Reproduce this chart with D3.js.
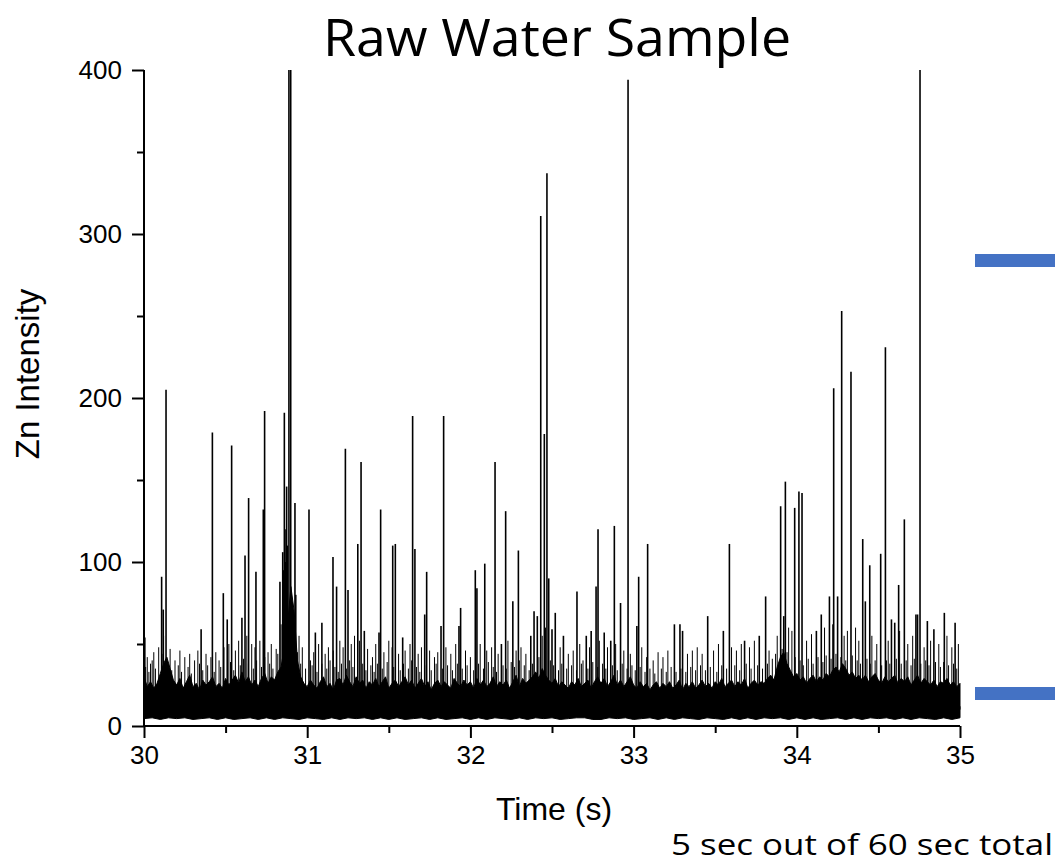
<!DOCTYPE html>
<html>
<head>
<meta charset="utf-8">
<script src="https://cdn.jsdelivr.net/npm/d3@7"></script>
<style>
  body { margin: 0; background: white; }
  svg { display: block; }
</style>
</head>
<body>
<div id="canvas"></div>
<script>
var w = 1055;
var h = 865;

// ---- data ----
var timeTicks = [30, 31, 32, 33, 34, 35];
var timeMinor = [30.5, 31.5, 32.5, 33.5, 34.5];
var intTicks = [0, 100, 200, 300, 400];
var intMinor = [50, 150, 250, 350];

// upper edge of the dense noise band, one value every 0.02 s from 30.00 to 35.00
var bandTop = [
  30, 24, 27, 23, 26, 32, 38, 42, 35, 28,
  25, 29, 23, 27, 31, 24, 26, 22, 28, 25,
  27, 30, 24, 26, 23, 29, 25, 28, 31, 26,
  33, 27, 30, 25, 28, 24, 29, 32, 26, 30,
  28, 33, 36, 48, 62, 85, 70, 40, 30, 26,
  24, 28, 25, 23, 27, 30, 24, 26, 22, 28,
  29, 25, 31, 27, 24, 30, 26, 28, 23, 27,
  25, 29, 24, 27, 30, 23, 26, 28, 24, 27,
  30, 25, 28, 23, 26, 29, 24, 27, 22, 26,
  28, 24, 27, 25, 23, 29, 26, 24, 28, 25,
  27, 23, 29, 25, 28, 24, 26, 30, 24, 27,
  25, 28, 23, 27, 31, 24, 29, 26, 28, 30,
  33, 29, 35, 31, 28, 26, 29, 24, 27, 25,
  23, 27, 25, 29, 24, 26, 28, 23, 27, 30,
  26, 29, 24, 27, 31, 25, 28, 24, 27, 30,
  25, 23, 27, 24, 26, 22, 25, 27, 23, 26,
  24, 27, 23, 25, 28, 22, 26, 24, 27, 23,
  25, 28, 24, 26, 23, 27, 25, 29, 24, 26,
  28, 24, 27, 25, 29, 23, 26, 28, 25, 27,
  26, 29, 31, 28, 36, 42, 45, 38, 34, 30,
  32, 28, 30, 26, 29, 31, 27, 30, 28, 32,
  30, 34, 36, 33, 38, 35, 31, 33, 29, 31,
  28, 31, 27, 30, 32, 28, 26, 30, 27, 29,
  31, 26, 29, 27, 30, 25, 28, 31, 26, 29,
  27, 25, 28, 24, 27, 26, 29, 25, 27, 24,
  26];
// lower edge of the band, one value every 0.05 s
var bandLow = [4.5, 5, 4, 5, 4.5, 5, 4, 4.5, 5, 4,
               5, 4, 4.5, 5, 4, 5, 4, 5, 4.5, 4,
               5, 4.5, 4, 5, 4, 5, 4.5, 5, 4, 5,
               4, 5, 4, 4.5, 5, 4, 5, 4, 4.5, 5,
               4, 5, 4, 5, 4.5, 4, 5, 4, 5, 4.5,
               5, 4, 4.5, 5, 5, 4, 4, 5, 4.5, 5,
               4, 4.5, 5, 4, 5, 4, 5, 4.5, 4, 5,
               4.5, 4, 5, 4, 5, 4, 5, 4.5, 5, 4,
               5, 4, 5, 4, 4.5, 5, 4, 5, 4, 5,
               4.5, 5, 4, 5, 4, 5, 4.5, 4, 5, 4, 5];

// individual spikes [time, intensity]
var spikes = [[30.005,54],[30.108,91],[30.118,71],[30.135,205],[30.35,59],[30.419,179],[30.486,81],
  [30.51,65],[30.537,171],[30.6,66],[30.619,104],[30.641,139],[30.686,94],[30.731,132],[30.739,192],
  [30.833,88],[30.85,106],[30.855,95],[30.86,191],[30.865,100],[30.87,120],[30.874,146],[30.878,110],
  [30.888,400],[30.899,400],[30.925,136],[30.93,80],[31.011,132],[31.05,57],[31.09,63],[31.158,103],
  [31.18,85],[31.234,169],[31.25,83],[31.31,111],[31.33,161],[31.35,58],[31.44,57],[31.45,132],
  [31.524,110],[31.54,111],[31.585,54],[31.646,189],[31.66,108],[31.72,68],[31.732,94],[31.82,61],
  [31.836,189],[31.93,61],[31.94,72],[32.03,95],[32.04,84],[32.088,99],[32.151,161],[32.19,50],
  [32.216,131],[32.26,76],[32.294,107],[32.37,55],[32.39,70],[32.41,67],[32.431,311],[32.453,178],
  [32.469,337],[32.48,90],[32.5,59],[32.52,69],[32.57,55],[32.653,82],[32.71,55],[32.74,58],
  [32.77,85],[32.782,120],[32.82,57],[32.86,52],[32.882,122],[32.92,75],[32.966,394],[33.02,61],
  [33.031,91],[33.086,111],[33.25,62],[33.284,62],[33.3,58],[33.454,67],[33.55,58],[33.587,111],
  [33.68,52],[33.77,55],[33.809,79],[33.901,134],[33.92,67],[33.93,149],[33.987,133],[34.013,143],
  [34.032,142],[34.12,58],[34.15,68],[34.2,79],[34.226,206],[34.25,79],[34.275,253],[34.332,216],
  [34.404,114],[34.42,76],[34.447,98],[34.514,105],[34.543,231],[34.58,65],[34.6,63],[34.624,86],
  [34.659,126],[34.73,68],[34.74,68],[34.755,400],[34.8,64],[34.84,59],[34.904,69],[34.97,63]];

// smaller noise excursions above the band
var minor = [[30.02,42],[30.04,38],[30.06,45],[30.09,48],[30.12,55],[30.16,47],[30.19,40],[30.22,46],
  [30.25,42],[30.28,44],[30.31,40],[30.33,46],[30.38,44],[30.41,42],[30.44,45],[30.46,40],[30.49,48],
  [30.52,50],[30.56,46],[30.58,52],[30.63,55],[30.66,50],[30.68,48],[30.71,52],[30.76,45],[30.78,50],
  [30.81,47],[30.84,62],[30.91,70],[30.95,55],[30.97,48],[31.02,40],[31.04,45],[31.07,50],[31.11,44],
  [31.13,48],[31.16,46],[31.2,52],[31.22,48],[31.27,50],[31.29,55],[31.32,52],[31.37,47],[31.4,42],
  [31.42,50],[31.47,45],[31.5,52],[31.52,48],[31.56,44],[31.6,46],[31.63,50],[31.68,44],[31.7,48],
  [31.75,46],[31.78,42],[31.8,45],[31.85,48],[31.88,44],[31.91,50],[31.97,46],[32.0,42],[32.06,50],
  [32.1,46],[32.13,48],[32.17,44],[32.23,52],[32.28,46],[32.31,48],[32.34,44],[32.44,55],[32.46,60],
  [32.55,48],[32.6,44],[32.63,46],[32.67,50],[32.69,40],[32.73,48],[32.79,52],[32.84,48],[32.89,50],
  [32.94,46],[32.98,44],[33.05,48],[33.08,42],[33.12,40],[33.15,45],[33.18,42],[33.21,46],[33.33,44],
  [33.36,46],[33.39,48],[33.42,44],[33.49,46],[33.52,50],[33.6,48],[33.63,46],[33.66,50],[33.71,48],
  [33.74,52],[33.83,46],[33.88,55],[33.95,60],[33.97,58],[34.06,52],[34.09,56],[34.17,60],[34.22,62],
  [34.29,55],[34.31,58],[34.36,60],[34.38,52],[34.46,55],[34.49,50],[34.56,52],[34.63,58],[34.68,50],
  [34.71,55],[34.78,48],[34.82,52],[34.87,50],[34.92,55],[34.95,48],[34.99,50]];

// fringe of short hairlines just above the band
var fringe = [[30.01,36],[30.03,33],[30.05,40],[30.07,35],[30.11,44],[30.14,38],[30.17,34],[30.21,37],
  [30.23,33],[30.27,36],[30.29,32],[30.34,38],[30.36,34],[30.39,37],[30.43,33],[30.47,36],[30.53,39],
  [30.55,34],[30.59,37],[30.61,41],[30.64,38],[30.67,35],[30.69,40],[30.72,36],[30.74,42],[30.77,38],
  [30.79,35],[30.82,44],[30.94,45],[30.96,38],[30.99,35],[31.03,37],[31.06,33],[31.09,38],[31.12,35],
  [31.14,40],[31.17,36],[31.19,33],[31.21,38],[31.24,35],[31.26,40],[31.28,36],[31.34,38],[31.36,34],
  [31.39,37],[31.41,33],[31.43,38],[31.46,35],[31.49,39],[31.53,36],[31.57,34],[31.59,38],[31.62,35],
  [31.64,40],[31.67,36],[31.69,33],[31.73,37],[31.76,34],[31.79,38],[31.83,35],[31.86,37],[31.89,34],
  [31.92,38],[31.95,35],[31.98,37],[32.02,34],[32.05,38],[32.08,35],[32.11,39],[32.14,36],[32.16,33],
  [32.2,37],[32.22,35],[32.25,39],[32.27,36],[32.3,40],[32.33,37],[32.36,34],[32.38,38],[32.42,42],
  [32.49,40],[32.51,37],[32.54,34],[32.56,38],[32.59,35],[32.62,37],[32.65,34],[32.68,38],[32.72,35],
  [32.75,39],[32.78,36],[32.81,38],[32.83,35],[32.87,37],[32.9,34],[32.93,38],[32.96,35],[32.99,37],
  [33.01,34],[33.04,36],[33.07,33],[33.1,35],[33.13,32],[33.17,35],[33.2,33],[33.23,36],[33.26,33],
  [33.29,35],[33.32,33],[33.35,36],[33.38,34],[33.41,37],[33.44,34],[33.47,36],[33.51,33],[33.54,37],
  [33.57,35],[33.62,37],[33.65,34],[33.69,38],[33.72,35],[33.76,37],[33.79,35],[33.82,38],[33.85,41],
  [33.87,44],[33.91,47],[33.94,45],[33.99,42],[34.02,40],[34.04,37],[34.07,41],[34.1,38],[34.13,42],
  [34.16,39],[34.18,43],[34.21,41],[34.24,44],[34.27,42],[34.3,40],[34.34,43],[34.37,40],[34.39,38],
  [34.43,41],[34.45,38],[34.48,40],[34.52,37],[34.55,40],[34.57,38],[34.61,41],[34.64,38],[34.67,40],
  [34.7,37],[34.72,41],[34.76,38],[34.79,40],[34.81,37],[34.85,39],[34.88,36],[34.9,39],[34.93,37],
  [34.96,38],[34.98,35]];

// ---- drawing ----
var svg = d3.select("#canvas").append("svg")
  .attr("width", w)
  .attr("height", h)
  .style("background-color", "white");

var xScale = d3.scaleLinear().domain([30, 35]).range([144, 960]);
var yScale = d3.scaleLinear().domain([0, 400]).range([726, 70]).clamp(true);
var topTime = d3.scaleLinear().domain([0, bandTop.length - 1]).range([30, 35]);
var lowTime = d3.scaleLinear().domain([0, bandLow.length - 1]).range([30, 35]);

var plot = svg.append("g");

// vertical hairlines from the band up to the reading
function hairlines(cls, data, sw) {
  plot.selectAll("." + cls)
    .data(data)
    .join("line")
    .attr("class", cls)
    .attr("x1", d => xScale(d[0]))
    .attr("x2", d => xScale(d[0]))
    .attr("y1", yScale(8))
    .attr("y2", d => yScale(d[1]))
    .attr("stroke", "black")
    .attr("stroke-width", sw);
}
hairlines("fringe", fringe, 1);
hairlines("minor", minor, 1);

// dense band: top edge and bottom edge
var topArea = d3.area()
  .x((d, i) => xScale(topTime(i)))
  .y0(yScale(10))
  .y1(d => yScale(d));
var lowArea = d3.area()
  .x((d, i) => xScale(lowTime(i)))
  .y0(yScale(12))
  .y1(d => yScale(d));

plot.append("path")
  .datum(bandTop)
  .attr("d", topArea)
  .attr("fill", "black")
  .attr("stroke", "black")
  .attr("stroke-width", 1);
plot.append("path")
  .datum(bandLow)
  .attr("d", lowArea)
  .attr("fill", "black")
  .attr("stroke", "black")
  .attr("stroke-width", 1);

// spikes
hairlines("spike", spikes, 1.6);

// axes
var xAxis = svg.append("g")
  .attr("transform", "translate(0,726)")
  .call(d3.axisBottom(xScale).tickValues(timeTicks).tickSize(12).tickPadding(8).tickFormat(d3.format("d")));
var xMinor = svg.append("g")
  .attr("transform", "translate(0,726)")
  .call(d3.axisBottom(xScale).tickValues(timeMinor).tickSize(7).tickFormat(""));
var yAxis = svg.append("g")
  .attr("transform", "translate(144,0)")
  .call(d3.axisLeft(yScale).tickValues(intTicks).tickSize(12).tickPadding(10));
var yMinor = svg.append("g")
  .attr("transform", "translate(144,0)")
  .call(d3.axisLeft(yScale).tickValues(intMinor).tickSize(7).tickFormat(""));

svg.selectAll(".domain").attr("stroke", "black").attr("stroke-width", 2);
svg.selectAll(".tick line").attr("stroke", "black").attr("stroke-width", 2);
svg.selectAll(".tick text")
  .style("font-family", "Liberation Sans, Arial, sans-serif")
  .style("font-size", "26px")
  .attr("fill", "black");
// keep domain lines without end caps
xAxis.select(".domain").attr("d", "M144,0H960");
xMinor.select(".domain").remove();
yAxis.select(".domain").attr("d", "M0,726V70");
yMinor.select(".domain").remove();

// labels
svg.append("text")
  .attr("x", 554)
  .attr("y", 820)
  .attr("text-anchor", "middle")
  .text("Time (s)")
  .style("font-family", "Liberation Sans, Arial, sans-serif")
  .style("font-size", "32px");

svg.append("text")
  .attr("transform", "translate(39,374) rotate(-90)")
  .attr("text-anchor", "middle")
  .text("Zn Intensity")
  .style("font-family", "Liberation Sans, Arial, sans-serif")
  .style("font-size", "33px");

svg.append("text")
  .attr("x", 557)
  .attr("y", 56)
  .attr("text-anchor", "middle")
  .attr("textLength", 468)
  .attr("lengthAdjust", "spacingAndGlyphs")
  .text("Raw Water Sample")
  .style("font-family", "Open Sans, sans-serif")
  .style("font-size", "51px");

svg.append("text")
  .attr("x", 1053)
  .attr("y", 855)
  .attr("text-anchor", "end")
  .attr("textLength", 382)
  .attr("lengthAdjust", "spacingAndGlyphs")
  .text("5 sec out of 60 sec total")
  .style("font-family", "Open Sans, sans-serif")
  .style("font-size", "30px");

// blue arrow stubs on the right
var stubs = [260, 693];
svg.selectAll(".stub")
  .data(stubs)
  .join("rect")
  .attr("class", "stub")
  .attr("x", 975)
  .attr("y", d => d - 6)
  .attr("width", 80)
  .attr("height", 13)
  .attr("fill", "#4472C4");
</script>
</body>
</html>
